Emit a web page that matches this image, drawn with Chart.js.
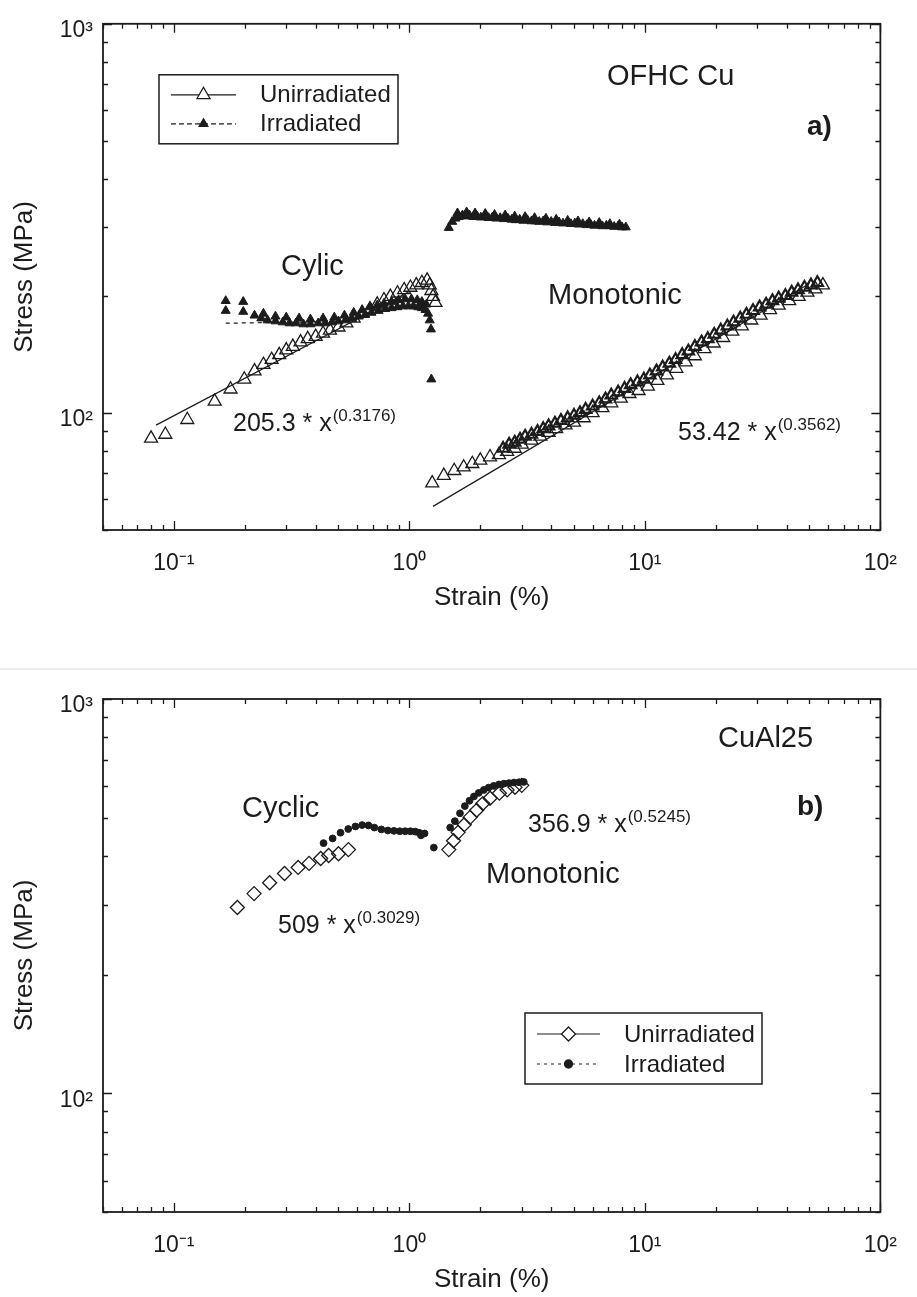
<!DOCTYPE html>
<html>
<head>
<meta charset="utf-8">
<script src="https://cdn.jsdelivr.net/npm/chart.js@4.4.1/dist/chart.umd.min.js"></script>
<style>
  html, body { margin: 0; padding: 0; background: #fff; }
  #page { position: relative; width: 917px; height: 1297px; overflow: hidden; }
  canvas { position: absolute; left: 0; }
  #chartA { top: 0; }
  #chartB { top: 650px; }
  .rule { position: absolute; left: 0; top: 668px; width: 917px; height: 2px; background: #ededed; }
</style>
</head>
<body>
<div id="page">
  <canvas id="chartA" width="917" height="650"></canvas>
  <div class="rule"></div>
  <canvas id="chartB" width="917" height="647"></canvas>
</div>
<script>
const FONT = '"Liberation Sans", Arial, Helvetica, sans-serif';
const INK = '#1c1c1c';

// axis ticks (log decades + minor ticks)
const strainTicks = [0.05, 0.06, 0.07, 0.08, 0.09, 0.1, 0.2, 0.3, 0.4, 0.5, 0.6, 0.7, 0.8, 0.9,
  1, 2, 3, 4, 5, 6, 7, 8, 9, 10, 20, 30, 40, 50, 60, 70, 80, 90, 100];
const stressTicks = [50, 60, 70, 80, 90, 100, 200, 300, 400, 500, 600, 700, 800, 900, 1000];

// ---- a) OFHC Cu ----
const cuCycUnirrStrain = [0.080, 0.092, 0.114, 0.149, 0.174, 0.199, 0.22, 0.24, 0.26, 0.28, 0.30, 0.32, 0.345, 0.37, 0.40, 0.43, 0.46, 0.50,
  0.54, 0.58, 0.63, 0.68, 0.73, 0.78, 0.83, 0.89, 0.95, 1.01, 1.07, 1.13, 1.19, 1.22, 1.24, 1.26, 1.29];
const cuCycUnirrStress = [86, 88, 96, 107, 115, 122, 128, 133, 137, 141, 145, 148, 152, 155, 157, 160, 163, 166,
  170, 175, 180, 185, 190, 195, 199, 203, 207, 210, 213, 216, 219, 213, 206, 199, 192];

const cuCycIrrStrain = [0.166, 0.166, 0.197, 0.197, 0.22, 0.235, 0.25, 0.27, 0.29, 0.31, 0.33, 0.355, 0.38, 0.41, 0.44, 0.47, 0.50, 0.535,
  0.57, 0.61, 0.65, 0.69, 0.74, 0.79, 0.84, 0.89, 0.94, 0.99, 1.04, 1.09, 1.13, 1.17, 1.20, 1.22, 1.235, 1.24];
const cuCycIrrStress = [194, 183, 193, 182, 178, 175, 173, 172, 171, 170, 170, 169, 169, 170, 170, 171, 172, 173,
  175, 177, 179, 181, 183, 185, 186, 187, 188, 188, 188, 187, 186, 184, 180, 173, 164, 122];
// upper edge of the cyclic irradiated band
const cuCycIrrUpStrain = [0.24, 0.27, 0.30, 0.34, 0.38, 0.43, 0.48, 0.53, 0.58, 0.63, 0.68, 0.73, 0.78, 0.84, 0.90, 0.96, 1.02, 1.08, 1.13, 1.18];
const cuCycIrrUpStress = [180, 177, 176, 175, 174, 175, 176, 178, 181, 184, 187, 189, 191, 193, 195, 196, 196, 195, 193, 190];

const cuMonoIrrStrain = [1.47, 1.52, 1.57, 1.62, 1.68, 1.74, 1.80, 1.87, 1.94, 2.01, 2.09, 2.17, 2.25, 2.34, 2.43, 2.52, 2.62, 2.72,
  2.83, 2.94, 3.05, 3.17, 3.30, 3.43, 3.56, 3.70, 3.85, 4.00, 4.16, 4.32, 4.49, 4.67, 4.85, 5.04, 5.24, 5.45,
  5.66, 5.88, 6.11, 6.35, 6.60, 6.86, 7.13, 7.41, 7.70, 8.00, 8.30];
const cuMonoIrrStress = [299, 310, 316, 319, 322, 320, 322, 319, 320, 318, 319, 317, 318, 316, 317, 315, 316, 314,
  313, 314, 312, 313, 311, 311, 310, 311, 309, 310, 308, 309, 307, 308, 306, 307, 305, 306,
  304, 305, 303, 304, 302, 303, 302, 301, 302, 300, 300];
// upper edge of the monotonic irradiated band
const cuMonoIrrUpStrain = [1.6, 1.75, 1.9, 2.1, 2.3, 2.55, 2.8, 3.1, 3.4, 3.8, 4.2, 4.7, 5.2, 5.8, 6.4, 7.1, 7.8];
const cuMonoIrrUpStress = [326, 328, 326, 325, 323, 322, 320, 319, 317, 316, 314, 312, 311, 309, 308, 306, 305];

const cuMonoUnirrStrain = [1.25, 1.4, 1.55, 1.7, 1.85, 2.0, 2.2, 2.4, 2.6, 2.8, 3.0, 3.3, 3.6, 3.9, 4.2, 4.6, 5.0, 5.5, 6.0, 6.6, 7.2, 7.9,
  8.6, 9.4, 10.3, 11.3, 12.4, 13.6, 14.9, 16.3, 17.9, 19.6, 21.5, 23.5, 25.8, 28.3, 31, 34, 37, 41, 45, 49, 53, 57];
const cuMonoUnirrStress = [66, 69, 71, 72.5, 74, 75.5, 77, 78, 79.5, 81, 83, 85, 87, 89, 91, 93, 94.5, 97, 100, 103, 106, 109,
  112, 114, 117, 121, 125, 130, 135, 140, 146, 151, 156, 162, 167, 173, 178, 184, 189, 194, 199, 204, 208, 213];

const cuMonoUnirrBStrain = [2.5, 2.65, 2.8, 2.95, 3.1, 3.3, 3.5, 3.7, 3.9, 4.15, 4.4, 4.7, 5.0, 5.3, 5.6, 6.0, 6.4, 6.8, 7.2, 7.7,
  8.2, 8.7, 9.3, 9.9, 10.5, 11.2, 11.9, 12.7, 13.5, 14.4, 15.3, 16.3, 17.4, 18.5, 19.7, 21, 22.4, 23.8, 25.4, 27,
  28.8, 30.7, 32.7, 34.8, 37, 39.5, 42, 44.7, 47.6, 50.7, 54];
const cuMonoUnirrBStress = [81, 83, 84, 85.5, 87, 88, 89.5, 91, 92.5, 94, 95.5, 97, 98.5, 100, 102, 104, 106, 108.5, 111, 113,
  115.5, 118, 120, 122, 125, 128, 131, 134, 137, 141, 144, 148, 152, 155, 159, 163, 167, 171, 175, 179,
  183, 187, 190, 194, 197, 200, 204, 207, 210, 213, 216];

// power-law fits, end points
const cuCycFitStrain = [0.084, 1.0];
const cuCycFitStress = [93, 205];
const cuMonoFitStrain = [1.26, 50];
const cuMonoFitStress = [57.5, 215];
const cuCycIrrFitStrain = [0.166, 0.6];
const cuCycIrrFitStress = [170, 172];

// ---- b) CuAl25 ----
const alCycUnirrStrain = [0.186, 0.219, 0.255, 0.295, 0.337, 0.375, 0.42, 0.454, 0.50, 0.551];
const alCycUnirrStress = [296, 321, 342, 361, 374, 383, 394, 401, 405, 415];

const alCycIrrStrain = [0.432, 0.472, 0.51, 0.55, 0.59, 0.63, 0.67, 0.71, 0.76, 0.81, 0.86, 0.91, 0.96, 1.01, 1.06, 1.10, 1.12, 1.16, 1.27];
const alCycIrrStress = [431, 443, 458, 468, 475, 479, 478, 472, 467, 464, 463, 462, 462, 462, 461, 458, 451, 456, 420];

const alMonoIrrStrain = [1.49, 1.56, 1.64, 1.72, 1.80, 1.88, 1.97, 2.07, 2.17, 2.28, 2.40, 2.52, 2.65, 2.78, 2.92, 3.06];
const alMonoIrrStress = [472, 490, 513, 535, 552, 566, 578, 588, 596, 602, 607, 610, 612, 614, 615, 616];

const alMonoUnirrStrain = [1.47, 1.54, 1.61, 1.71, 1.81, 1.93, 2.05, 2.2, 2.41, 2.6, 2.81, 3.0];
const alMonoUnirrStress = [415, 437, 459, 480, 501, 522, 543, 560, 577, 588, 597, 604];

const zip = (xs, ys) => xs.map((x, i) => ({x: x, y: ys[i]}));

const SUP = {'-': '\u207B', '0': '\u2070', '1': '\u00B9', '2': '\u00B2', '3': '\u00B3'};
function decadeLabel(v) {
  const e = Math.log10(v);
  if (Math.abs(e - Math.round(e)) > 1e-6) return '';
  return '10' + String(Math.round(e)).split('').map(c => SUP[c]).join('');
}
const isDecade = v => decadeLabel(v) !== '';

function markers(data, style, r, open, bw) {
  return {
    data: data, showLine: false, pointStyle: style, pointRadius: r, pointHoverRadius: r,
    pointBorderColor: INK, pointBackgroundColor: open ? 'rgba(0,0,0,0)' : INK,
    pointBorderWidth: bw || (open ? 1.3 : 1)
  };
}
function fitLine(data, dash) {
  return {
    data: data, showLine: true, pointRadius: 0, borderColor: INK, borderWidth: 1.2,
    borderDash: dash || [], fill: false
  };
}

// inward ticks on all four sides plus the box
const frameTicks = {
  id: 'frameTicks',
  afterDraw(chart) {
    const {ctx, chartArea: a} = chart;
    const sx = chart.scales.x, sy = chart.scales.y;
    ctx.save();
    ctx.strokeStyle = INK;
    ctx.lineWidth = 1.3;
    ctx.beginPath();
    sx.ticks.forEach(t => {
      const px = Math.round(sx.getPixelForValue(t.value)) + 0.5;
      const len = isDecade(t.value) ? 9 : 5;
      ctx.moveTo(px, a.bottom); ctx.lineTo(px, a.bottom - len);
      ctx.moveTo(px, a.top); ctx.lineTo(px, a.top + len);
    });
    sy.ticks.forEach(t => {
      const py = Math.round(sy.getPixelForValue(t.value)) + 0.5;
      const len = isDecade(t.value) ? 9 : 5;
      ctx.moveTo(a.left, py); ctx.lineTo(a.left + len, py);
      ctx.moveTo(a.right, py); ctx.lineTo(a.right - len, py);
    });
    ctx.stroke();
    ctx.lineWidth = 1.8;
    ctx.strokeRect(a.left, a.top, a.right - a.left, a.bottom - a.top);
    ctx.restore();
  }
};

function drawMarker(ctx, style, x, y, r, open) {
  ctx.beginPath();
  if (style === 'triangle') {
    ctx.moveTo(x, y - r);
    ctx.lineTo(x + r * 0.866, y + r * 0.5);
    ctx.lineTo(x - r * 0.866, y + r * 0.5);
    ctx.closePath();
  } else if (style === 'rectRot') {
    ctx.moveTo(x, y - r); ctx.lineTo(x + r, y); ctx.lineTo(x, y + r); ctx.lineTo(x - r, y);
    ctx.closePath();
  } else {
    ctx.arc(x, y, r, 0, Math.PI * 2);
  }
  ctx.fillStyle = open ? '#fff' : INK;
  ctx.fill();
  ctx.lineWidth = 1.3;
  ctx.stroke();
}

// text labels and the boxed legend, offsets from the plot area corner
function notesPlugin(notes, legend) {
  return {
    id: 'notes',
    afterDraw(chart) {
      const {ctx, chartArea: a} = chart;
      ctx.save();
      ctx.fillStyle = INK;
      ctx.strokeStyle = INK;
      ctx.textAlign = 'left';
      notes.forEach(n => {
        ctx.textBaseline = 'alphabetic';
        ctx.font = (n.bold ? 'bold ' : '') + n.size + 'px ' + FONT;
        const x = a.left + n.dx, y = a.top + n.dy;
        ctx.fillText(n.text, x, y);
        if (n.sup) {
          const w = ctx.measureText(n.text).width;
          ctx.font = '17px ' + FONT;
          ctx.fillText(n.sup, x + w + 1, y - 10);
        }
      });
      const x0 = a.left + legend.dx, y0 = a.top + legend.dy;
      ctx.fillStyle = '#fff';
      ctx.fillRect(x0, y0, legend.w, legend.h);
      ctx.lineWidth = 1.5;
      ctx.strokeRect(x0, y0, legend.w, legend.h);
      legend.rows.forEach(r => {
        const y = a.top + r.dy;
        ctx.lineWidth = 1.2;
        ctx.setLineDash(r.dash);
        ctx.beginPath();
        ctx.moveTo(a.left + legend.lineFrom, y);
        ctx.lineTo(a.left + legend.lineTo, y);
        ctx.stroke();
        ctx.setLineDash([]);
        drawMarker(ctx, r.style, a.left + (legend.lineFrom + legend.lineTo) / 2, y, r.r, r.open);
        ctx.fillStyle = INK;
        ctx.font = '24px ' + FONT;
        ctx.textBaseline = 'middle';
        ctx.fillText(r.label, a.left + legend.textX, y + 1);
      });
      ctx.restore();
    }
  };
}

function panelOptions(padTop, padBottom) {
  return {
    responsive: false,
    animation: false,
    events: [],
    layout: {padding: {top: padTop, right: 21, bottom: padBottom, left: 0}},
    plugins: {legend: {display: false}, tooltip: {enabled: false}},
    scales: {
      x: {
        type: 'logarithmic', position: 'bottom', min: 0.05, max: 100,
        afterBuildTicks: s => { s.ticks = strainTicks.map(v => ({value: v})); },
        afterFit: s => { s.height = 85; },
        grid: {display: false, drawTicks: false},
        border: {display: false},
        ticks: {autoSkip: false, maxRotation: 0, padding: 20, color: INK,
          font: {family: FONT, size: 23}, callback: v => decadeLabel(v)},
        title: {display: true, text: 'Strain (%)', color: INK,
          font: {family: FONT, size: 26}, padding: {top: 0, bottom: 2}}
      },
      y: {
        type: 'logarithmic', position: 'left', min: 50, max: 1000,
        afterBuildTicks: s => { s.ticks = stressTicks.map(v => ({value: v})); },
        afterFit: s => { s.width = 103; },
        grid: {display: false, drawTicks: false},
        border: {display: false},
        ticks: {autoSkip: false, padding: 10, labelOffset: 7, color: INK,
          font: {family: FONT, size: 23}, callback: v => decadeLabel(v)},
        title: {display: true, text: 'Stress (MPa)', color: INK,
          font: {family: FONT, size: 26}, padding: {top: 9, bottom: 0}}
      }
    }
  };
}

new Chart(document.getElementById('chartA'), {
  type: 'scatter',
  data: {
    datasets: [
      markers(zip(cuCycIrrStrain, cuCycIrrStress), 'triangle', 5.2, false),
      markers(zip(cuCycIrrUpStrain, cuCycIrrUpStress), 'triangle', 5.2, false),
      markers(zip(cuMonoIrrStrain, cuMonoIrrStress), 'triangle', 5.2, false),
      markers(zip(cuMonoIrrUpStrain, cuMonoIrrUpStress), 'triangle', 5.2, false),
      markers(zip(cuCycUnirrStrain, cuCycUnirrStress), 'triangle', 7.5, true),
      markers(zip(cuMonoUnirrStrain, cuMonoUnirrStress), 'triangle', 7.5, true),
      markers(zip(cuMonoUnirrBStrain, cuMonoUnirrBStress), 'triangle', 6.5, true, 2.2),
      fitLine(zip(cuCycFitStrain, cuCycFitStress)),
      fitLine(zip(cuMonoFitStrain, cuMonoFitStress)),
      fitLine(zip(cuCycIrrFitStrain, cuCycIrrFitStress), [4, 4])
    ]
  },
  options: panelOptions(17, 35),
  plugins: [frameTicks, notesPlugin([
    {text: 'OFHC Cu', dx: 504, dy: 61, size: 29},
    {text: 'a)', dx: 704, dy: 111, size: 28, bold: true},
    {text: 'Cylic', dx: 178, dy: 251, size: 29},
    {text: 'Monotonic', dx: 445, dy: 280, size: 29},
    {text: '205.3 * x', sup: '(0.3176)', dx: 130, dy: 407, size: 25},
    {text: '53.42 * x', sup: '(0.3562)', dx: 575, dy: 416, size: 25}
  ], {
    dx: 56, dy: 51, w: 239, h: 69, lineFrom: 68, lineTo: 133, textX: 157,
    rows: [
      {label: 'Unirradiated', dy: 71, dash: [], style: 'triangle', r: 7.5, open: true},
      {label: 'Irradiated', dy: 100, dash: [5, 3], style: 'triangle', r: 5, open: false}
    ]
  })]
});

new Chart(document.getElementById('chartB'), {
  type: 'scatter',
  data: {
    datasets: [
      markers(zip(alCycIrrStrain, alCycIrrStress), 'circle', 3.4, false),
      markers(zip(alMonoIrrStrain, alMonoIrrStress), 'circle', 3.4, false),
      markers(zip(alCycUnirrStrain, alCycUnirrStress), 'rectRot', 7, true),
      markers(zip(alMonoUnirrStrain, alMonoUnirrStress), 'rectRot', 7, true)
    ]
  },
  options: panelOptions(49, 0),
  plugins: [frameTicks, notesPlugin([
    {text: 'CuAl25', dx: 615, dy: 48, size: 29},
    {text: 'b)', dx: 694, dy: 116, size: 28, bold: true},
    {text: 'Cyclic', dx: 139, dy: 118, size: 29},
    {text: 'Monotonic', dx: 383, dy: 184, size: 29},
    {text: '509 * x', sup: '(0.3029)', dx: 175, dy: 234, size: 25},
    {text: '356.9 * x', sup: '(0.5245)', dx: 425, dy: 133, size: 25}
  ], {
    dx: 422, dy: 314, w: 237, h: 71, lineFrom: 434, lineTo: 497, textX: 521,
    rows: [
      {label: 'Unirradiated', dy: 335, dash: [], style: 'rectRot', r: 7, open: true},
      {label: 'Irradiated', dy: 365, dash: [3, 4], style: 'circle', r: 4, open: false}
    ]
  })]
});
</script>
</body>
</html>
